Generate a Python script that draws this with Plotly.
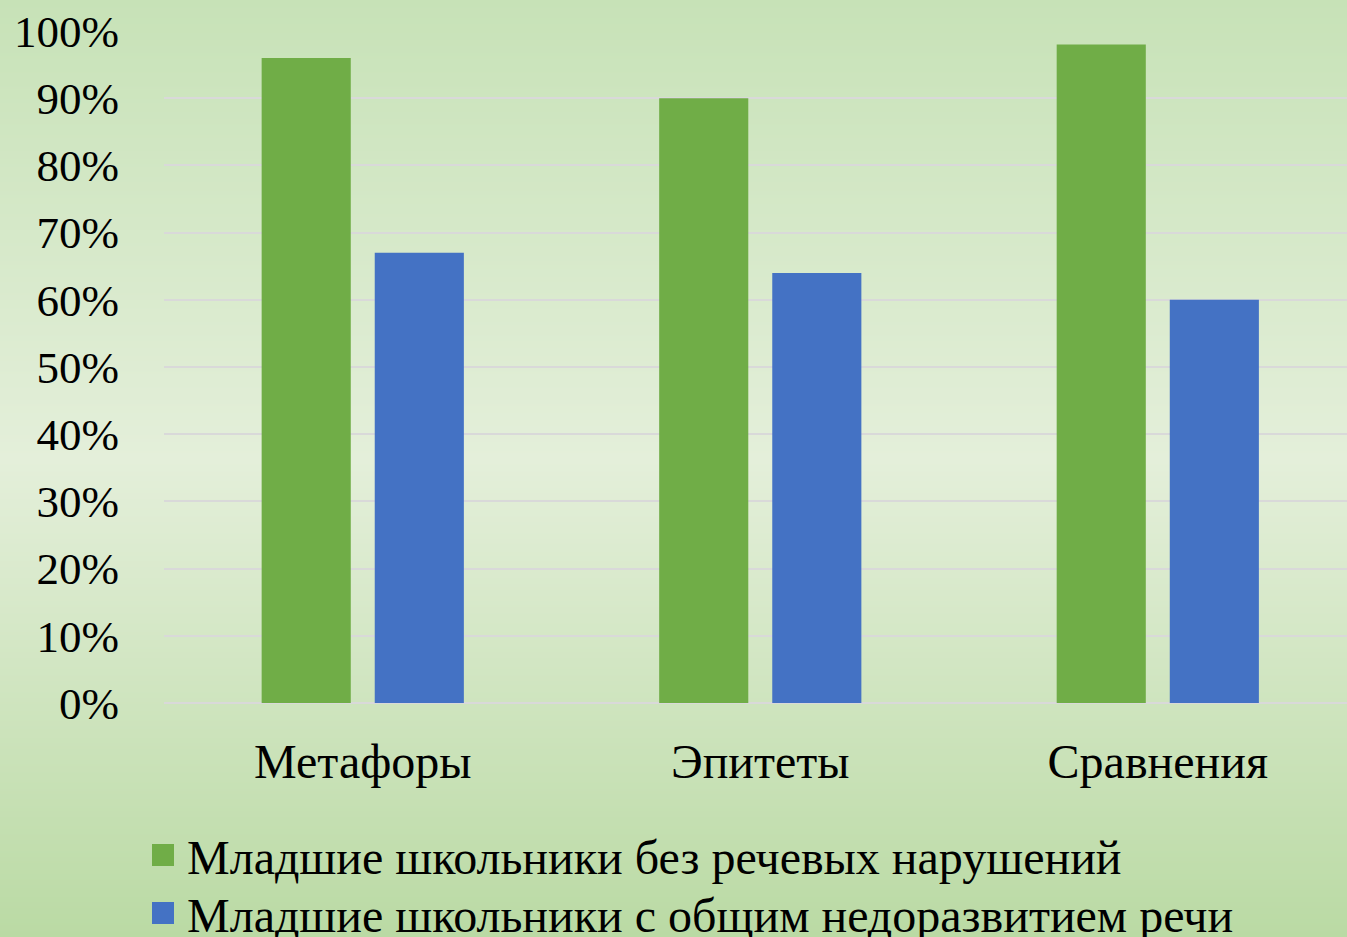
import base64, struct, zlib
import plotly.graph_objects as go

categories = ["Метафоры", "Эпитеты", "Сравнения"]
series_names = ["Младшие школьники без речевых нарушений",
                "Младшие школьники с общим недоразвитием речи"]
values_normal = [0.96, 0.90, 0.98]
values_onr = [0.67, 0.64, 0.60]
colors = ["#70AD47", "#4472C4"]
y_ticks = [0, 0.1, 0.2, 0.3, 0.4, 0.5, 0.6, 0.7, 0.8, 0.9, 1.0]

W, H = 1347, 937
ML, MR, MT, MB = 164, 0, 31, 234
FONT = "Liberation Serif, Times New Roman, serif"

# vertical gradient background as an inline PNG
stops = [(0.0, (199, 226, 183)), (0.49, (228, 239, 218)), (1.0, (186, 218, 164))]
def col_at(t):
    for (t0, c0), (t1, c1) in zip(stops[:-1], stops[1:]):
        if t <= t1:
            f = (t - t0) / (t1 - t0)
            return tuple(int(round(a + (b - a) * f)) for a, b in zip(c0, c1))
    return stops[-1][1]
rows = b"".join(b"\x00" + bytes(col_at(i / (H - 1))) for i in range(H))
def chunk(tag, data):
    return struct.pack(">I", len(data)) + tag + data + struct.pack(">I", zlib.crc32(tag + data) & 0xffffffff)
png = (b"\x89PNG\r\n\x1a\n" + chunk(b"IHDR", struct.pack(">IIBBBBB", 1, H, 8, 2, 0, 0, 0))
       + chunk(b"IDAT", zlib.compress(rows)) + chunk(b"IEND", b""))
bg_uri = "data:image/png;base64," + base64.b64encode(png).decode()

pw, ph = W - ML - MR, H - MT - MB
def px_x(px):
    return (px - ML) / pw
def px_y(py):
    return (H - MB - py) / ph

fig = go.Figure()
fig.add_trace(go.Bar(x=categories, y=values_normal, name=series_names[0],
                     marker=dict(color=colors[0], line=dict(width=0)), showlegend=False))
fig.add_trace(go.Bar(x=categories, y=values_onr, name=series_names[1],
                     marker=dict(color=colors[1], line=dict(width=0)), showlegend=False))

# legend drawn as squares + text
legend_rows_px = [855, 913]
shapes, annotations = [], []
for nm, c, cy in zip(series_names, colors, legend_rows_px):
    shapes.append(dict(type="rect", xref="paper", yref="paper",
                       x0=px_x(152), x1=px_x(174), y0=px_y(cy + 11), y1=px_y(cy - 11),
                       fillcolor=c, line=dict(width=0), layer="above"))
    annotations.append(dict(text=nm, xref="paper", yref="paper", x=px_x(185), y=px_y(cy + 2),
                            xanchor="left", yanchor="middle", showarrow=False,
                            font=dict(family=FONT, size=48, color="#000")))

fig.update_layout(
    width=W, height=H,
    margin=dict(l=ML, r=MR, t=MT, b=MB, pad=0, autoexpand=False),
    paper_bgcolor="#c8e2b8", plot_bgcolor="rgba(0,0,0,0)",
    barmode="group", bargap=0.431, bargroupgap=0.212,
    showlegend=False,
    font=dict(family=FONT, size=44, color="#000000"),
    images=[dict(source=bg_uri, xref="paper", yref="paper",
                 x=-ML / pw, y=1 + MT / ph, sizex=W / pw, sizey=H / ph,
                 xanchor="left", yanchor="top", sizing="stretch", layer="below")],
    shapes=shapes, annotations=annotations,
    xaxis=dict(range=[-0.5, 2.476], showgrid=False, zeroline=False, showline=False,
               ticks="", ticklabelstandoff=26, tickangle=0, automargin=False,
               tickfont=dict(family=FONT, size=48)),
    yaxis=dict(range=[0, 1], tickvals=y_ticks, tickformat=".0%",
               showgrid=True, gridcolor="#d9d9d9", gridwidth=2,
               zeroline=True, zerolinecolor="#d9d9d9", zerolinewidth=2,
               showline=False, ticks="", ticklabelstandoff=44, automargin=False,
               tickfont=dict(family=FONT, size=45)),
)

fig.write_html("out.html", config={"displayModeBar": False},
               post_script="document.body.style.margin='0';")
